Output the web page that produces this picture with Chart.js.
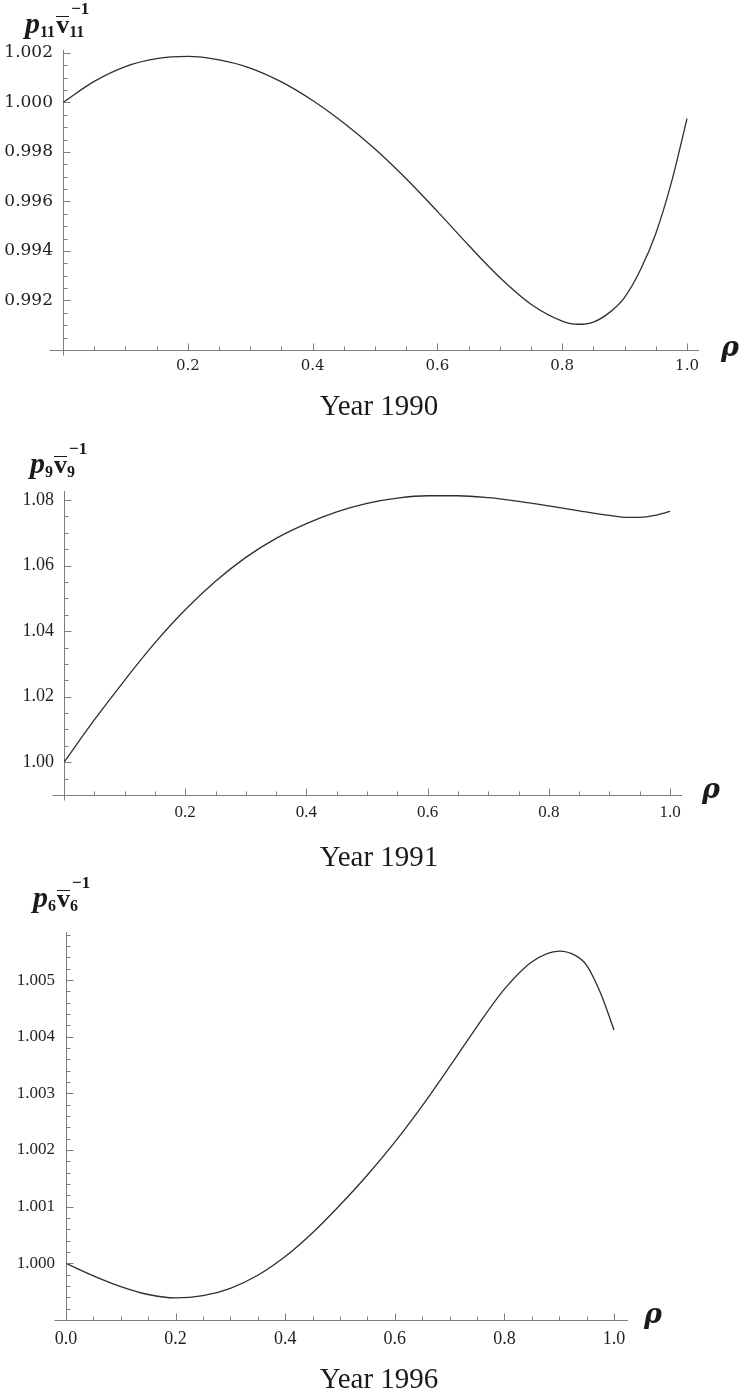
<!DOCTYPE html>
<html>
<head>
<meta charset="utf-8">
<script src="https://cdn.jsdelivr.net/npm/chart.js@4.4.1/dist/chart.umd.min.js"></script>
<style>
html,body{margin:0;padding:0;background:#fff;}
body{width:742px;height:1396px;position:relative;overflow:hidden;}
canvas{position:absolute;left:0;}
.t{position:absolute;font-family:"Liberation Serif",serif;color:#1a1a1a;line-height:1;white-space:nowrap;}
.yr{font-size:29px;width:742px;text-align:center;left:8px;}
.rho{font-family:"DejaVu Serif",serif;font-size:27px;font-weight:bold;font-style:italic;}
.ml{font-weight:bold;font-size:30px;}
.ml .mp{font-style:italic;font-size:30px;}
.ml .mv{display:inline-block;font-size:26px;line-height:0.6;border-top:1.5px solid #1a1a1a;margin-left:1px;}
.ml .ms{font-size:16px;position:relative;top:4px;}
.ml .mx{position:relative;display:inline-block;}
.ml .mx .sp{position:absolute;left:2px;top:-8px;font-size:17px;}
</style>
</head>
<body>
<canvas id="c1" width="742" height="420" style="top:0px"></canvas>
<canvas id="c2" width="742" height="450" style="top:420px"></canvas>
<canvas id="c3" width="742" height="526" style="top:870px"></canvas>

<div class="t ml" style="left:25px;top:8px"><span class="mp">p</span><span class="ms">11</span><span class="mv">v</span><span class="mx"><span class="ms">11</span><span class="sp">−1</span></span></div>
<div class="t ml" style="left:30px;top:448px"><span class="mp">p</span><span class="ms">9</span><span class="mv">v</span><span class="mx"><span class="ms">9</span><span class="sp">−1</span></span></div>
<div class="t ml" style="left:33px;top:882px"><span class="mp">p</span><span class="ms">6</span><span class="mv">v</span><span class="mx"><span class="ms">6</span><span class="sp">−1</span></span></div>

<div class="t rho" style="left:721px;top:333px">ρ</div>
<div class="t rho" style="left:702px;top:775px">ρ</div>
<div class="t rho" style="left:644px;top:1300px">ρ</div>

<div class="t yr" style="top:391px">Year 1990</div>
<div class="t yr" style="top:842px">Year 1991</div>
<div class="t yr" style="top:1364px">Year 1996</div>

<script>
// ---------- data: Year 1990 ----------
const rho1 = [0, 0.05, 0.10, 0.15, 0.20, 0.25, 0.30, 0.35, 0.40, 0.45, 0.50, 0.55, 0.60, 0.65, 0.70, 0.75, 0.80, 0.825, 0.85, 0.875, 0.90, 0.925, 0.95, 0.975, 1.00];
const val1 = [1.00000, 1.00085, 1.00145, 1.00177, 1.00186, 1.00172, 1.00139, 1.00083, 1.00008, 0.99917, 0.99812, 0.99692, 0.99560, 0.99423, 0.99293, 0.99185, 0.99117, 0.99104, 0.99113, 0.99150, 0.99213, 0.99322, 0.99471, 0.99677, 0.99935];
const xTicks1 = [0.2, 0.4, 0.6, 0.8, 1.0];
const xLabels1 = ['0.2', '0.4', '0.6', '0.8', '1.0'];
const yTicks1 = [0.992, 0.994, 0.996, 0.998, 1.000, 1.002];
const yLabels1 = ['0.992', '0.994', '0.996', '0.998', '1.000', '1.002'];

// ---------- data: Year 1991 ----------
const rho2 = [0, 0.05, 0.10, 0.15, 0.20, 0.25, 0.30, 0.35, 0.40, 0.45, 0.50, 0.55, 0.60, 0.65, 0.70, 0.75, 0.80, 0.85, 0.90, 0.93, 0.95, 0.975, 1.00];
const val2 = [1.0000, 1.0129, 1.0250, 1.0364, 1.0465, 1.0552, 1.0625, 1.0683, 1.0728, 1.0764, 1.0790, 1.0806, 1.0813, 1.0813, 1.0807, 1.0796, 1.0782, 1.0767, 1.0753, 1.0747, 1.0747, 1.0753, 1.0765];
const xTicks2 = [0.2, 0.4, 0.6, 0.8, 1.0];
const xLabels2 = ['0.2', '0.4', '0.6', '0.8', '1.0'];
const yTicks2 = [1.00, 1.02, 1.04, 1.06, 1.08];
const yLabels2 = ['1.00', '1.02', '1.04', '1.06', '1.08'];

// ---------- data: Year 1996 ----------
const rho3 = [0, 0.05, 0.10, 0.15, 0.20, 0.25, 0.30, 0.35, 0.40, 0.45, 0.50, 0.55, 0.60, 0.65, 0.70, 0.75, 0.80, 0.85, 0.90, 0.93, 0.95, 0.975, 1.00];
const val3 = [1.00000, 0.99978, 0.99959, 0.99945, 0.99939, 0.99943, 0.99956, 0.99979, 1.00012, 1.00054, 1.00103, 1.00156, 1.00214, 1.00278, 1.00347, 1.00418, 1.00484, 1.00532, 1.00551, 1.00543, 1.00526, 1.00478, 1.00412];
const xTicks3 = [0.0, 0.2, 0.4, 0.6, 0.8, 1.0];
const xLabels3 = ['0.0', '0.2', '0.4', '0.6', '0.8', '1.0'];
const yTicks3 = [1.000, 1.001, 1.002, 1.003, 1.004, 1.005];
const yLabels3 = ['1.000', '1.001', '1.002', '1.003', '1.004', '1.005'];

// ---------- drawing ----------
const AXIS = '#7d7d7d';
const TEXT = '#1f1f1f';

const mathTicks = {
  id: 'mathTicks',
  afterDraw(chart, args, o) {
    const {ctx} = chart;
    const xs = chart.scales.x, ys = chart.scales.y;
    const xAxisPx = Math.round(ys.getPixelForValue(ys.min)) + 0.5;
    const yAxisPx = Math.round(xs.getPixelForValue(0)) + 0.5;
    ctx.save();
    ctx.strokeStyle = AXIS;
    ctx.lineWidth = 1;
    ctx.beginPath();
    // x ticks, pointing up into the plot
    const nx = Math.round(1 / o.xMinor);
    for (let i = 1; i <= nx; i++) {
      const v = i * o.xMinor;
      const major = i % o.xEvery === 0;
      const px = Math.round(xs.getPixelForValue(v)) + 0.5;
      ctx.moveTo(px, xAxisPx);
      ctx.lineTo(px, xAxisPx - (major ? o.majorLen : o.minorLen));
    }
    // y ticks, pointing right into the plot
    const k0 = Math.ceil(ys.min / o.yMinor - 1e-6);
    const k1 = Math.floor(ys.max / o.yMinor + 1e-6);
    for (let k = k0; k <= k1; k++) {
      const v = k * o.yMinor;
      if (Math.abs(v - ys.min) < o.yMinor * 0.01) continue;
      const major = k % o.yEvery === 0;
      const py = Math.round(ys.getPixelForValue(v)) + 0.5;
      ctx.moveTo(yAxisPx, py);
      ctx.lineTo(yAxisPx + (major ? o.majorLen : o.minorLen), py);
    }
    // axis line runs a little past the origin, Mathematica style
    ctx.moveTo(yAxisPx - o.ext, xAxisPx);
    ctx.lineTo(yAxisPx, xAxisPx);
    if (o.stub) {
      ctx.moveTo(yAxisPx, xAxisPx);
      ctx.lineTo(yAxisPx, xAxisPx + o.stub);
    }
    ctx.stroke();
    ctx.restore();
  }
};

function makeChart(id, rho, vals, xTicks, xLabels, yTicks, yLabels, s) {
  const pts = rho.map((r, i) => ({x: r, y: vals[i]}));
  return new Chart(document.getElementById(id), {
    type: 'line',
    data: {datasets: [{
      data: pts,
      borderColor: '#2e2e2e',
      borderWidth: 1.3,
      pointRadius: 0,
      fill: false,
      cubicInterpolationMode: 'monotone'
    }]},
    options: {
      responsive: false,
      animation: false,
      events: [],
      layout: {padding: s.pad},
      plugins: {legend: {display: false}, tooltip: {enabled: false}, title: {display: false},
        mathTicks: s.ticks},
      scales: {
        x: {
          type: 'linear',
          min: 0, max: s.xmax,
          position: {y: s.ymin},
          afterBuildTicks: sc => { sc.ticks = xTicks.map(v => ({value: v})); },
          grid: {display: true, drawOnChartArea: false, drawTicks: false},
          border: {display: true, color: AXIS, width: 1},
          ticks: {autoSkip: false, maxRotation: 0, padding: s.xpad, color: TEXT,
            font: s.xfont, callback: (v, i) => xLabels[i]}
        },
        y: {
          type: 'linear',
          min: s.ymin, max: s.ymax,
          position: 'left',
          afterFit: sc => { sc.width = s.yWidth; },
          afterBuildTicks: sc => { sc.ticks = yTicks.map(v => ({value: v})); },
          grid: {display: true, drawOnChartArea: false, drawTicks: false},
          border: {display: true, color: AXIS, width: 1},
          ticks: {autoSkip: false, padding: s.ypad, color: TEXT,
            font: s.yfont, callback: (v, i) => yLabels[i]}
        }
      }
    },
    plugins: [mathTicks]
  });
}

makeChart('c1', rho1, val1, xTicks1, xLabels1, yTicks1, yLabels1, {
  pad: {left: 3, right: 44, top: 50, bottom: 70}, yWidth: 60,
  xmax: 1.0176, ymin: 0.990, ymax: 1.00212,
  xpad: 7, ypad: 10,
  xfont: {family: 'DejaVu Serif', size: 15},
  yfont: {family: 'DejaVu Serif', size: 17},
  ticks: {xMinor: 0.05, xEvery: 4, yMinor: 0.0005, yEvery: 4, majorLen: 7, minorLen: 4, stub: 5, ext: 14}
});

makeChart('c2', rho2, val2, xTicks2, xLabels2, yTicks2, yLabels2, {
  pad: {left: 4, right: 61, top: 71, bottom: 75}, yWidth: 60,
  xmax: 1.018, ymin: 0.990, ymax: 1.08275,
  xpad: 7, ypad: 10,
  xfont: {family: 'Liberation Serif', size: 17},
  yfont: {family: 'Liberation Serif', size: 18},
  ticks: {xMinor: 0.05, xEvery: 4, yMinor: 0.005, yEvery: 4, majorLen: 7, minorLen: 4, stub: 5, ext: 12}
});

makeChart('c3', rho3, val3, xTicks3, xLabels3, yTicks3, yLabels3, {
  pad: {left: 6, right: 115, top: 62, bottom: 76}, yWidth: 60,
  xmax: 1.0237, ymin: 0.999, ymax: 1.005848,
  xpad: 8, ypad: 11,
  xfont: {family: 'Liberation Serif', size: 18},
  yfont: {family: 'Liberation Serif', size: 17},
  ticks: {xMinor: 0.05, xEvery: 4, yMinor: 0.0002, yEvery: 5, majorLen: 7, minorLen: 4, stub: 0, ext: 12}
});
</script>
</body>
</html>
